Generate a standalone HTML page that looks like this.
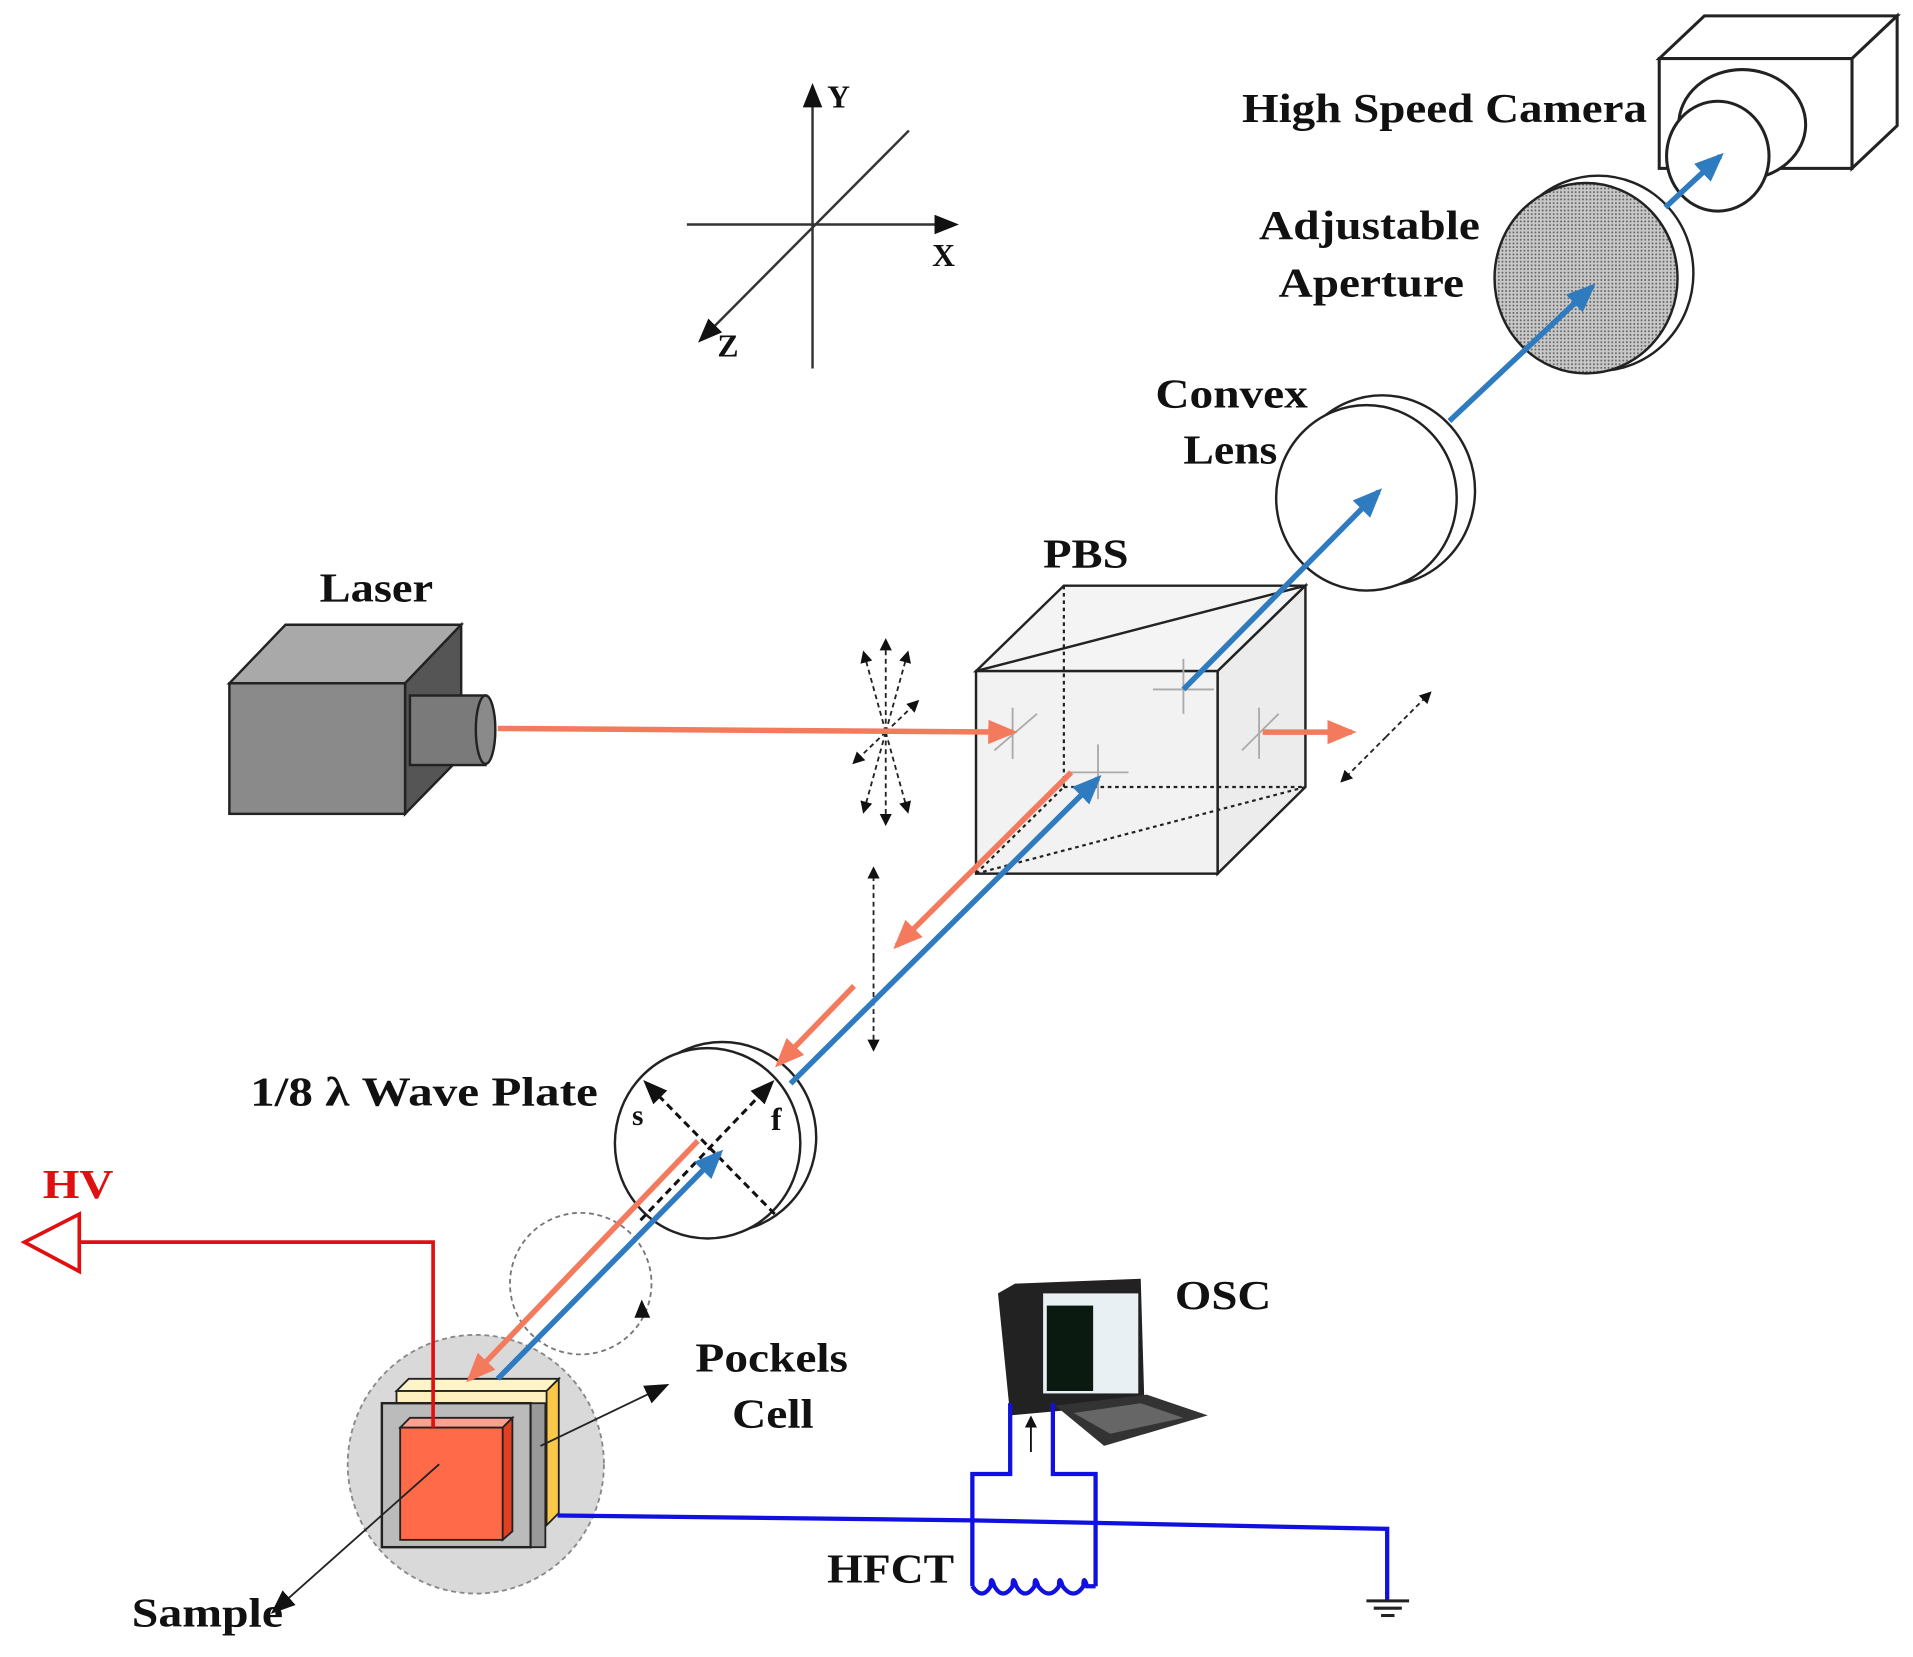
<!DOCTYPE html>
<html><head><meta charset="utf-8"><style>
html,body{margin:0;padding:0;background:#fff}
svg{display:block}
text{font-family:"Liberation Serif",serif;font-weight:bold;fill:#111}
</style></head><body>
<svg width="1913" height="1657" viewBox="0 0 1568 1358" preserveAspectRatio="none" xmlns="http://www.w3.org/2000/svg">
<defs>
<marker id="ab" markerWidth="10" markerHeight="10" refX="8" refY="5" orient="auto" markerUnits="userSpaceOnUse"><path d="M0,0 L10,5 L0,10 z" fill="#111"/></marker>
<marker id="ar" markerWidth="24" markerHeight="20" refX="20" refY="10" orient="auto" markerUnits="userSpaceOnUse"><path d="M0,0 L24,10 L0,20 z" fill="#f47a5e"/></marker>
<marker id="abl" markerWidth="24" markerHeight="20" refX="20" refY="10" orient="auto" markerUnits="userSpaceOnUse"><path d="M0,0 L24,10 L0,20 z" fill="#2f7bc0"/></marker>
<marker id="ak" markerWidth="20" markerHeight="16" refX="16" refY="8" orient="auto" markerUnits="userSpaceOnUse"><path d="M0,0 L20,8 L0,16 z" fill="#111"/></marker>
<pattern id="dots" width="3" height="3" patternUnits="userSpaceOnUse"><rect width="3" height="3" fill="#c8c8c8"/><circle cx="1.5" cy="1.5" r="0.8" fill="#666"/></pattern>
</defs>

<g stroke="#333" stroke-width="2" fill="none">
<line x1="666" y1="302" x2="666" y2="72" marker-end="url(#ak)"/>
<line x1="563" y1="184" x2="782" y2="184" marker-end="url(#ak)"/>
<line x1="745" y1="107" x2="575" y2="278" marker-end="url(#ak)"/>
</g>
<text x="678" y="88" font-size="26">Y</text>
<text x="764" y="218" font-size="26">X</text>
<text x="588" y="292" font-size="26">Z</text>

<g stroke="#222" stroke-width="2.5" fill="#fff">
<path d="M1360,48 L1397,13 L1555,13 L1518,48 z"/>
<path d="M1518,48 L1555,13 L1555,103 L1518,138 z"/>
<rect x="1360" y="48" width="158" height="90"/>
<ellipse cx="1428" cy="102" rx="52" ry="45"/>
<ellipse cx="1408" cy="128" rx="42" ry="45"/>
</g>
<text x="1018" y="100" font-size="34" textLength="332" lengthAdjust="spacingAndGlyphs">High Speed Camera</text>

<ellipse cx="1310" cy="224" rx="78" ry="80" fill="#fff" stroke="#222" stroke-width="2"/>
<ellipse cx="1300" cy="228" rx="75" ry="78" fill="url(#dots)" stroke="#222" stroke-width="2"/>
<text x="1032" y="196" font-size="34" textLength="181" lengthAdjust="spacingAndGlyphs">Adjustable</text>
<text x="1048" y="243" font-size="34" textLength="152" lengthAdjust="spacingAndGlyphs">Aperture</text>

<ellipse cx="1133" cy="402" rx="76" ry="78" fill="#fff" stroke="#222" stroke-width="2"/>
<ellipse cx="1120" cy="408" rx="74" ry="76" fill="#fff" stroke="#222" stroke-width="2"/>
<text x="947" y="334" font-size="34" textLength="125" lengthAdjust="spacingAndGlyphs">Convex</text>
<text x="970" y="380" font-size="34" textLength="77" lengthAdjust="spacingAndGlyphs">Lens</text>

<g stroke="#222" stroke-width="2">
<path d="M800,550 L872,480 L1070,480 L998,550 z" fill="#f4f4f4"/>
<path d="M998,550 L1070,480 L1070,645 L998,716 z" fill="#ececec"/>
<rect x="800" y="550" width="198" height="166" fill="#f2f2f2"/>
<line x1="800" y1="550" x2="1070" y2="480"/>
</g>
<g stroke="#222" stroke-width="1.8" stroke-dasharray="3,3" fill="none">
<line x1="872" y1="480" x2="872" y2="645"/>
<line x1="872" y1="645" x2="1070" y2="645"/>
<line x1="800" y1="716" x2="872" y2="645"/>
<line x1="800" y1="716" x2="1070" y2="645"/>
</g>
<g stroke="#aaa" stroke-width="1.5">
<line x1="830" y1="580" x2="830" y2="622"/><line x1="815" y1="615" x2="850" y2="585"/>
<line x1="970" y1="540" x2="970" y2="585"/><line x1="945" y1="565" x2="995" y2="565"/>
<line x1="900" y1="610" x2="900" y2="655"/><line x1="875" y1="633" x2="925" y2="633"/>
<line x1="1032" y1="580" x2="1032" y2="622"/><line x1="1018" y1="615" x2="1048" y2="585"/>
</g>
<text x="855" y="465" font-size="34" textLength="70" lengthAdjust="spacingAndGlyphs">PBS</text>

<g stroke="#222" stroke-width="2">
<path d="M188,560 L234,512 L378,512 L332,560 z" fill="#a9a9a9"/>
<path d="M332,560 L378,512 L378,620 L332,667 z" fill="#555"/>
<rect x="188" y="560" width="144" height="107" fill="#8a8a8a"/>
<rect x="336" y="570" width="62" height="57" fill="#7a7a7a"/>
<ellipse cx="398" cy="598" rx="8" ry="28" fill="#8a8a8a"/>
</g>
<text x="262" y="493" font-size="34" textLength="93" lengthAdjust="spacingAndGlyphs">Laser</text>

<g stroke="#222" stroke-width="1.5" stroke-dasharray="4,3" fill="none">
<line x1="726" y1="600" x2="726" y2="525" marker-end="url(#ab)"/>
<line x1="726" y1="600" x2="726" y2="675" marker-end="url(#ab)"/>
<line x1="726" y1="600" x2="708" y2="535" marker-end="url(#ab)"/>
<line x1="726" y1="600" x2="744" y2="535" marker-end="url(#ab)"/>
<line x1="726" y1="600" x2="708" y2="665" marker-end="url(#ab)"/>
<line x1="726" y1="600" x2="744" y2="665" marker-end="url(#ab)"/>
<line x1="726" y1="600" x2="752" y2="575" marker-end="url(#ab)"/>
<line x1="726" y1="600" x2="700" y2="625" marker-end="url(#ab)"/>
<line x1="716" y1="785" x2="716" y2="712" marker-end="url(#ab)"/>
<line x1="716" y1="785" x2="716" y2="860" marker-end="url(#ab)"/>
<line x1="1136" y1="604" x2="1172" y2="568" marker-end="url(#ab)"/>
<line x1="1136" y1="604" x2="1100" y2="640" marker-end="url(#ab)"/>
</g>

<ellipse cx="592" cy="932" rx="77" ry="78" fill="#fff" stroke="#222" stroke-width="2"/>
<ellipse cx="580" cy="937" rx="76" ry="78" fill="#fff" stroke="#222" stroke-width="2"/>
<g stroke="#111" stroke-width="2.5" stroke-dasharray="6,4">
<line x1="635" y1="995" x2="530" y2="888" marker-end="url(#ak)"/>
<line x1="525" y1="1000" x2="632" y2="888" marker-end="url(#ak)"/>
</g>
<text x="518" y="922" font-size="24">s</text>
<text x="632" y="926" font-size="26">f</text>
<text x="205" y="906" font-size="34" textLength="285" lengthAdjust="spacingAndGlyphs">1/8 λ  Wave Plate</text>

<circle cx="476" cy="1052" r="58" fill="none" stroke="#777" stroke-width="1.5" stroke-dasharray="4,3"/>
<path d="M526,1065 L533,1080 L520,1080 z" fill="#111"/>

<ellipse cx="390" cy="1200" rx="105" ry="106" fill="#d9d9d9" stroke="#888" stroke-width="1.5" stroke-dasharray="4,3"/>
<path d="M325,1140 L335,1130 L458,1130 L448,1140 z" fill="#fff4c8" stroke="#222" stroke-width="1.5"/>
<path d="M448,1140 L458,1130 L458,1240 L448,1250 z" fill="#fcc847" stroke="#222" stroke-width="1.5"/>
<rect x="325" y="1140" width="123" height="20" fill="#fff0c0" stroke="#222" stroke-width="1.5"/>
<rect x="313" y="1150" width="122" height="118" fill="#bbb" stroke="#222" stroke-width="2"/>
<rect x="435" y="1150" width="12" height="118" fill="#999" stroke="#222" stroke-width="1.5"/>
<path d="M328,1170 L336,1162 L420,1162 L412,1170 z" fill="#ffa090" stroke="#222" stroke-width="1.5"/>
<path d="M412,1170 L420,1162 L420,1255 L412,1262 z" fill="#e04020" stroke="#222" stroke-width="1.5"/>
<rect x="328" y="1170" width="84" height="92" fill="#ff6a48" stroke="#222" stroke-width="1.5"/>
<line x1="443" y1="1185" x2="545" y2="1136" stroke="#222" stroke-width="1.5" marker-end="url(#ak)"/>
<line x1="360" y1="1200" x2="225" y2="1320" stroke="#222" stroke-width="1.5" marker-end="url(#ak)"/>
<text x="570" y="1124" font-size="34" textLength="125" lengthAdjust="spacingAndGlyphs">Pockels</text>
<text x="600" y="1170" font-size="34" textLength="67" lengthAdjust="spacingAndGlyphs">Cell</text>
<text x="108" y="1333" font-size="34" textLength="124" lengthAdjust="spacingAndGlyphs">Sample</text>

<polyline points="355,1170 355,1018 65,1018" fill="none" stroke="#e01010" stroke-width="3"/>
<path d="M65,995 L20,1018 L65,1042 z" fill="#fff" stroke="#e01010" stroke-width="3"/>
<text x="35" y="982" font-size="34" style="fill:#e01010" textLength="58" lengthAdjust="spacingAndGlyphs">HV</text>

<g stroke-width="4.5" fill="none">
<line x1="408" y1="597" x2="830" y2="600" stroke="#f47a5e" marker-end="url(#ar)"/>
<line x1="1035" y1="600" x2="1108" y2="600" stroke="#f47a5e" marker-end="url(#ar)"/>
<line x1="878" y1="633" x2="735" y2="775" stroke="#f47a5e" marker-end="url(#ar)"/>
<line x1="700" y1="808" x2="638" y2="872" stroke="#f47a5e" marker-end="url(#ar)"/>
<line x1="572" y1="935" x2="385" y2="1130" stroke="#f47a5e" marker-end="url(#ar)"/>
<line x1="408" y1="1130" x2="590" y2="945" stroke="#2f7bc0" marker-end="url(#abl)"/>
<line x1="648" y1="888" x2="900" y2="638" stroke="#2f7bc0" marker-end="url(#abl)"/>
<line x1="970" y1="565" x2="1130" y2="403" stroke="#2f7bc0" marker-end="url(#abl)"/>
<line x1="1188" y1="345" x2="1305" y2="235" stroke="#2f7bc0" marker-end="url(#abl)"/>
<line x1="1365" y1="170" x2="1410" y2="128" stroke="#2f7bc0" marker-end="url(#abl)"/>
</g>

<g>
<path d="M818,1060 L832,1052 L935,1048 L938,1150 L828,1160 z" fill="#222"/>
<rect x="855" y="1060" width="78" height="82" fill="#e8f0f4"/>
<rect x="858" y="1070" width="38" height="70" fill="#0a1a10"/>
<path d="M865,1152 L940,1143 L990,1160 L905,1185 z" fill="#333"/>
<path d="M880,1158 L935,1150 L970,1162 L910,1175 z" fill="#666"/>
</g>
<text x="963" y="1073" font-size="34" textLength="79" lengthAdjust="spacingAndGlyphs">OSC</text>

<g stroke="#1010e0" stroke-width="3.5" fill="none">
<polyline points="457,1242 797,1246 1137,1253 1137,1312"/>
<polyline points="828,1150 828,1208 797,1208 797,1300"/>
<polyline points="863,1150 863,1208 898,1208 898,1300"/>
<path d="M797,1300 Q805,1312 812,1300 Q812,1290 815,1300 Q822,1312 830,1300 Q830,1290 833,1300 Q840,1312 848,1300 Q848,1290 851,1300 Q860,1312 868,1300 Q868,1290 871,1300 Q880,1312 888,1300 Q888,1290 891,1300 L898,1300"/>
</g>
<line x1="845" y1="1190" x2="845" y2="1162" stroke="#111" stroke-width="1.5" marker-end="url(#ab)"/>
<g stroke="#222" stroke-width="2.5">
<line x1="1120" y1="1312" x2="1155" y2="1312"/>
<line x1="1126" y1="1318" x2="1149" y2="1318"/>
<line x1="1132" y1="1324" x2="1143" y2="1324"/>
</g>
<text x="678" y="1297" font-size="34" textLength="104" lengthAdjust="spacingAndGlyphs">HFCT</text>
</svg>
</body></html>
